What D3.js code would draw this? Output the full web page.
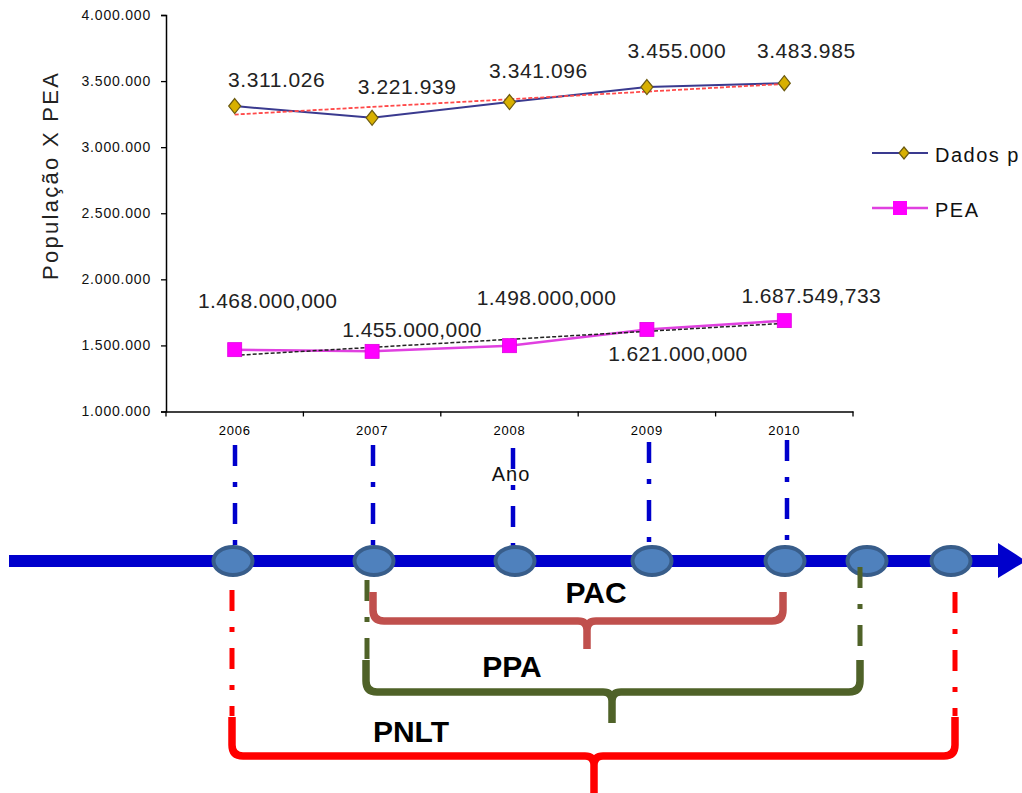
<!DOCTYPE html>
<html>
<head>
<meta charset="utf-8">
<script src="https://cdn.jsdelivr.net/npm/d3@7"></script>
<style>
  html, body { margin: 0; padding: 0; background: #fff; }
  svg { display: block; }
  text { font-family: "Liberation Sans", Arial, sans-serif; }
</style>
</head>
<body>
<svg id="chart" width="1022" height="793"></svg>
<script>
// ---------------- DATA ----------------
const years = ["2006", "2007", "2008", "2009", "2010"];
const dadosValues = [3311026, 3221939, 3341096, 3455000, 3483985];
const peaValues = [1468000, 1455000, 1498000, 1621000, 1687549.733];
const dadosLabels = ["3.311.026", "3.221.939", "3.341.096", "3.455.000", "3.483.985"];
const peaLabels = ["1.468.000,000", "1.455.000,000", "1.498.000,000", "1.621.000,000", "1.687.549,733"];
const yTicks = [1000000, 1500000, 2000000, 2500000, 3000000, 3500000, 4000000];
const yTickLabels = ["1.000.000", "1.500.000", "2.000.000", "2.500.000", "3.000.000", "3.500.000", "4.000.000"];
const seriesNames = ["Dados p", "PEA"];
const yAxisTitle = "População X PEA";
const xAxisTitle = "Ano";
const braceNames = ["PAC", "PPA", "PNLT"];

// ---------------- LAYOUT (not data) ----------------
const dadosLabelOffset = [[42, -19], [35, -24], [29, -24], [30, -29], [22, -25]];
const peaLabelOffset = [[33, -42], [40, -14], [37, -41], [31, 32], [27, -18]];

const svg = d3.select("#chart");

const plot = { left: 166, right: 853, top: 15, bottom: 411.5 };

const x = d3.scaleBand().domain(years).range([plot.left, plot.right]).paddingInner(0).paddingOuter(0);
const xc = d => x(d) + x.bandwidth() / 2;
const y = d3.scaleLinear().domain([1000000, 4000000]).range([plot.bottom, plot.top]);

// ---------- Axes ----------
const yAxis = d3.axisLeft(y).tickValues(yTicks)
  .tickFormat((d, i) => yTickLabels[i]).tickSize(5).tickPadding(10);
const gy = svg.append("g").attr("transform", `translate(${plot.left},0)`).call(yAxis);
gy.select(".domain").attr("stroke", "#000").attr("stroke-width", 1.5);
gy.selectAll(".tick line").attr("stroke", "#000").attr("stroke-width", 1.3);
gy.selectAll(".tick text").attr("font-size", 14).attr("fill", "#111")
  .attr("letter-spacing", 0.8).attr("font-family", "Liberation Sans, Arial, sans-serif");

const xAxis = d3.axisBottom(x).tickSize(0).tickPadding(14);
const gx = svg.append("g").attr("transform", `translate(0,${plot.bottom})`).call(xAxis);
gx.select(".domain").attr("stroke", "#000").attr("stroke-width", 1.5);
gx.selectAll(".tick text").attr("font-size", 13).attr("fill", "#000")
  .attr("letter-spacing", 0.8).attr("font-family", "Liberation Sans, Arial, sans-serif");
// boundary ticks (Excel style between categories)
const boundaries = years.map(d => x(d)).concat([plot.right]);
gx.selectAll(".btick").data(boundaries).enter().append("line")
  .attr("x1", d => d).attr("x2", d => d).attr("y1", 0).attr("y2", 5)
  .attr("stroke", "#000").attr("stroke-width", 1.3);

// axis titles
svg.append("text")
  .attr("transform", "translate(58,176.5) rotate(-90)")
  .attr("text-anchor", "middle")
  .attr("font-size", 22).attr("fill", "#222")
  .attr("textLength", 207).attr("lengthAdjust", "spacing")
  .text(yAxisTitle);

svg.append("text")
  .attr("x", 511).attr("y", 481)
  .attr("text-anchor", "middle")
  .attr("font-size", 20).attr("letter-spacing", 1).attr("fill", "#111")
  .text(xAxisTitle);

// ---------- Series ----------
const line = d3.line().x((d, i) => xc(years[i])).y(d => y(d));

function trend(values) {
  const n = values.length;
  const mx = d3.mean(values, (d, i) => i);
  const my = d3.mean(values);
  let sxy = 0, sxx = 0;
  values.forEach((v, i) => { sxy += (i - mx) * (v - my); sxx += (i - mx) * (i - mx); });
  const b = sxy / sxx, a = my - b * mx;
  return [[0, a], [n - 1, a + b * (n - 1)]];
}
const tline = d3.line().x(d => xc(years[d[0]])).y(d => y(d[1]));

// Dados line
svg.append("path").datum(dadosValues).attr("d", line)
  .attr("fill", "none").attr("stroke", "#3a3a8f").attr("stroke-width", 2);
// PEA line
svg.append("path").datum(peaValues).attr("d", line)
  .attr("fill", "none").attr("stroke", "#e040e0").attr("stroke-width", 2.5);

// trend lines
svg.append("path").datum(trend(dadosValues)).attr("d", tline)
  .attr("fill", "none").attr("stroke", "#ff4a4a").attr("stroke-width", 1.8)
  .attr("stroke-dasharray", "4,2");
svg.append("path").datum(trend(peaValues)).attr("d", tline)
  .attr("fill", "none").attr("stroke", "#222").attr("stroke-width", 1.5)
  .attr("stroke-dasharray", "4,2");

// markers
const diamond = (w, h) => `M0,${-h / 2}L${w / 2},0L0,${h / 2}L${-w / 2},0Z`;
svg.selectAll(".dm").data(dadosValues).enter().append("path")
  .attr("transform", (d, i) => `translate(${xc(years[i])},${y(d)})`)
  .attr("d", diamond(12, 15))
  .attr("fill", "#d8b000").attr("stroke", "#6b5a10").attr("stroke-width", 1.2);

svg.selectAll(".pm").data(peaValues).enter().append("rect")
  .attr("x", (d, i) => xc(years[i]) - 7).attr("y", d => y(d) - 7)
  .attr("width", 14).attr("height", 14)
  .attr("fill", "#ff00ff").attr("stroke", "#e000e0").attr("stroke-width", 0.8);

// data labels
svg.selectAll(".dl").data(dadosValues).enter().append("text")
  .attr("x", (d, i) => xc(years[i]) + dadosLabelOffset[i][0])
  .attr("y", (d, i) => y(d) + dadosLabelOffset[i][1])
  .attr("text-anchor", "middle").attr("font-size", 21).attr("letter-spacing", 0.6)
  .attr("fill", "#222").text((d, i) => dadosLabels[i]);

svg.selectAll(".pl").data(peaValues).enter().append("text")
  .attr("x", (d, i) => xc(years[i]) + peaLabelOffset[i][0])
  .attr("y", (d, i) => y(d) + peaLabelOffset[i][1])
  .attr("text-anchor", "middle").attr("font-size", 21).attr("letter-spacing", 0.4)
  .attr("fill", "#222").text((d, i) => peaLabels[i]);

// legend
const legend = svg.append("g");
const legY = [153, 208];
legend.append("line").attr("x1", 872).attr("x2", 928).attr("y1", legY[0]).attr("y2", legY[0])
  .attr("stroke", "#3a3a8f").attr("stroke-width", 2);
legend.append("path").attr("transform", `translate(904,${legY[0]})`).attr("d", diamond(10, 12))
  .attr("fill", "#d8b000").attr("stroke", "#6b5a10").attr("stroke-width", 1.2);
legend.append("line").attr("x1", 872).attr("x2", 928).attr("y1", legY[1]).attr("y2", legY[1])
  .attr("stroke", "#e040e0").attr("stroke-width", 2.5);
legend.append("rect").attr("x", 893).attr("y", legY[1] - 7).attr("width", 14).attr("height", 14)
  .attr("fill", "#ff00ff");
legend.selectAll(".lt").data(seriesNames).enter().append("text")
  .attr("x", 935).attr("y", (d, i) => legY[i] + 9)
  .attr("font-size", 20).attr("letter-spacing", 1.5).attr("fill", "#111")
  .text(d => d);

// ---------------- TIMELINE DIAGRAM (layout annotations) ----------------
const tlY = 561;
const nodesX = [233, 374, 515, 652, 785, 867, 951];
const blueConn = [[235, 445], [373, 445], [513, 448], [649, 442], [787, 440]];

// blue dash-dot connectors
svg.selectAll(".bc").data(blueConn).enter().append("line")
  .attr("x1", d => d[0]).attr("x2", d => d[0]).attr("y1", d => d[1]).attr("y2", 548)
  .attr("stroke", "#0000cc").attr("stroke-width", 4.5).attr("stroke-dasharray", "21,16,5,16");

// main arrow
svg.append("rect").attr("x", 9).attr("y", tlY - 6).attr("width", 992).attr("height", 12).attr("fill", "#0000cc");
svg.append("path").attr("d", `M998,${tlY - 18}L1026,${tlY}L998,${tlY + 17}Z`).attr("fill", "#0000cc");

// nodes
svg.selectAll(".nd").data(nodesX).enter().append("ellipse")
  .attr("cx", d => d).attr("cy", tlY).attr("rx", 19.5).attr("ry", 14)
  .attr("fill", "#4f81bd").attr("stroke", "#385d8a").attr("stroke-width", 4);

// red / green dash-dot connectors
const conn = [
  { x: 232, y1: 590, y2: 716, c: "#ff0000" },
  { x: 955, y1: 592, y2: 716, c: "#ff0000" },
  { x: 367, y1: 580, y2: 659, c: "#4f6228" },
  { x: 860, y1: 567, y2: 659, c: "#4f6228" }
];
svg.selectAll(".cn").data(conn).enter().append("line")
  .attr("x1", d => d.x).attr("x2", d => d.x).attr("y1", d => d.y1).attr("y2", d => d.y2)
  .attr("stroke", d => d.c).attr("stroke-width", 5).attr("stroke-dasharray", "21,16,5,16");

// braces
function bracePath(x1, x2, yTop, yH, xm, yTip) {
  const r = 11, r2 = 9;
  return `M${x1},${yTop}L${x1},${yH - r}Q${x1},${yH} ${x1 + r},${yH}L${xm - r2},${yH}` +
    `Q${xm},${yH} ${xm},${yH + r2}L${xm},${yTip}` +
    `M${xm},${yH + r2}Q${xm},${yH} ${xm + r2},${yH}L${x2 - r},${yH}Q${x2},${yH} ${x2},${yH - r}L${x2},${yTop}`;
}
const braces = [
  { x1: 373, x2: 783, yTop: 592, yH: 621, xm: 587, yTip: 649, c: "#c0504d", tx: 596, ty: 603 },
  { x1: 366, x2: 860, yTop: 660, yH: 692, xm: 612, yTip: 723, c: "#4f6228", tx: 512, ty: 677 },
  { x1: 232, x2: 955, yTop: 717, yH: 756, xm: 594, yTip: 800, c: "#ff0000", tx: 411, ty: 742 }
];
svg.selectAll(".br").data(braces).enter().append("path")
  .attr("d", d => bracePath(d.x1, d.x2, d.yTop, d.yH, d.xm, d.yTip))
  .attr("fill", "none").attr("stroke", d => d.c).attr("stroke-width", 7.5)
  .attr("stroke-linejoin", "round");
svg.selectAll(".bt").data(braces).enter().append("text")
  .attr("x", d => d.tx).attr("y", d => d.ty).attr("text-anchor", "middle")
  .attr("font-size", 30).attr("font-weight", "bold").attr("fill", "#000")
  .text((d, i) => braceNames[i]);
</script>
</body>
</html>
